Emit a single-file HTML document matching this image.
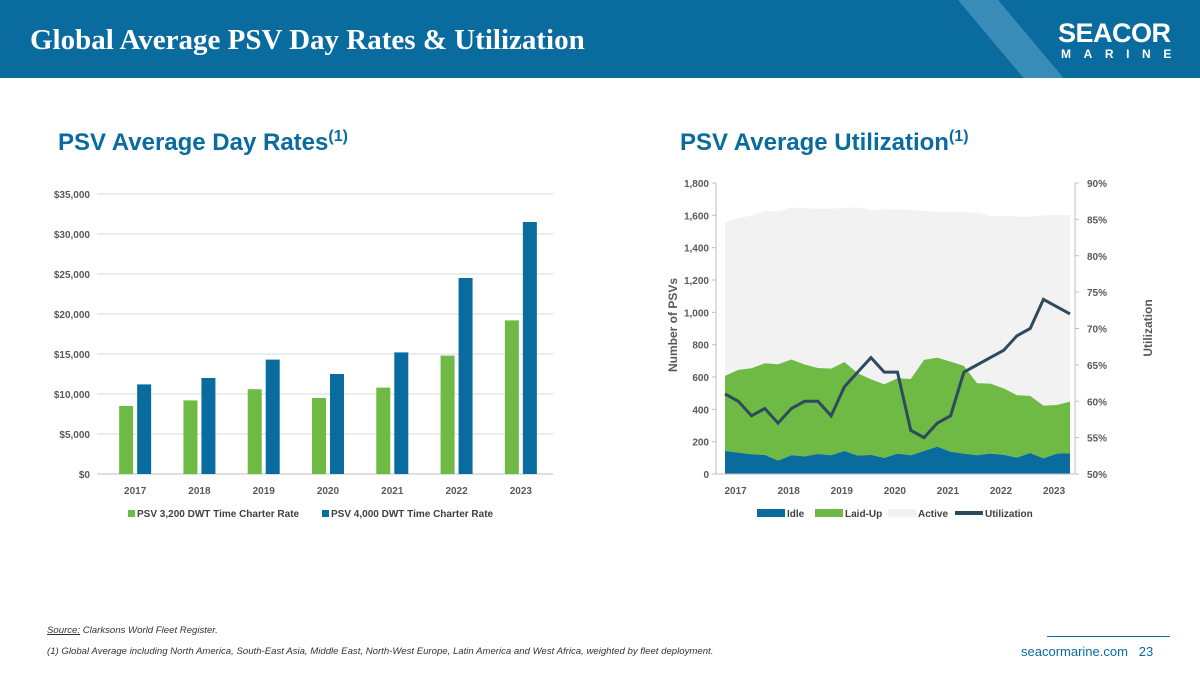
<!DOCTYPE html>
<html><head><meta charset="utf-8"><style>
body{margin:0;width:1200px;height:675px;overflow:hidden;background:#fff;font-family:"Liberation Sans",sans-serif;position:relative}
.hdr{position:absolute;left:0;top:0;width:1200px;height:78px;background:#0a6b9f;overflow:hidden}
.stripe{position:absolute;left:1000px;top:-20px;width:40px;height:140px;background:#3a8cb8;transform:skewX(40deg)}
.title{position:absolute;left:30px;top:24px;color:#fff;font:bold 29px "Liberation Serif",serif}
.logo1{position:absolute;left:1058px;top:18px;color:#fff;font:900 27px "Liberation Sans",sans-serif;letter-spacing:-0.5px}
.logo2{position:absolute;left:1061px;top:47px;color:#fff;font:bold 12px "Liberation Sans",sans-serif;letter-spacing:12.6px;white-space:nowrap}
.sub{position:absolute;color:#0a6b9f;font:bold 24px "Liberation Sans",sans-serif}
.sub sup{font-size:16px}
.foot{position:absolute;font:italic 9.6px "Liberation Sans",sans-serif;color:#333;white-space:nowrap}
</style></head><body>
<div class="hdr"><div class="stripe"></div>
<div class="title">Global Average PSV Day Rates &amp; Utilization</div>
<div class="logo1">SEACOR</div>
<div class="logo2">MARINE</div></div>
<div class="sub" style="left:58px;top:128px">PSV Average Day Rates<sup>(1)</sup></div>
<div class="sub" style="left:680px;top:128px">PSV Average Utilization<sup>(1)</sup></div>
<svg id="c1" width="1200" height="675" style="position:absolute;left:0;top:0" font-family="Liberation Sans, sans-serif"></svg>
<div class="foot" style="left:47px;top:625px"><u>Source:</u> Clarksons World Fleet Register.</div>
<div class="foot" style="left:47px;top:646px">(1) Global Average including North America, South-East Asia, Middle East, North-West Europe, Latin America and West Africa, weighted by fleet deployment.</div>
<div style="position:absolute;left:1047px;top:636px;width:123px;border-top:1px solid #0a6b9f"></div>
<div style="position:absolute;left:1021px;top:644px;font-size:13px;color:#0a6b9f">seacormarine.com &nbsp;&nbsp;23</div>
<script>
const years=["2017","2018","2019","2020","2021","2022","2023"];
const rate3200=[8500,9200,10600,9500,10800,14800,19200];
const rate4000=[11200,12000,14300,12500,15200,24500,31500];
const rateTicks=[0,5000,10000,15000,20000,25000,30000,35000];
const idle=[142,132,122,118,83,116,109,124,116,142,114,118,99,126,116,142,169,138,126,116,126,118,101,130,97,126,128];
const laidUp=[465,512,532,567,596,592,568,532,536,551,509,468,456,466,472,564,551,557,543,445,433,412,386,353,326,301,320];
const active=[949,939,944,944,944,941,966,985,989,952,1026,1045,1080,1045,1045,920,903,925,951,1055,1036,1068,1104,1108,1177,1175,1154];
const utilization=[61,60,58,59,57,59,60,60,58,62,64,66,64,64,56,55,57,58,64,65,66,67,69,70,74,73,72];
const countTicks=[0,200,400,600,800,1000,1200,1400,1600,1800];
const pctTicks=[50,55,60,65,70,75,80,85,90];
const svg=document.getElementById('c1');
const NS='http://www.w3.org/2000/svg';
function mk(t,a,p){const e=document.createElementNS(NS,t);for(const k in a)e.setAttribute(k,a[k]);(p||svg).appendChild(e);return e;}
function tx(x,y,s,anchor,size,extra){const e=mk('text',Object.assign({x:x,y:y,'text-anchor':anchor,'font-size':size||10,'font-weight':'bold',fill:'#595959'},extra||{}));e.textContent=s;return e;}
// Left chart
const L={x0:103,x1:553,y0:474,y1:194};
const yR=v=>L.y0-(v/35000)*(L.y0-L.y1);
const gw=(L.x1-L.x0)/years.length;
rateTicks.forEach(t=>{const g=mk('line',{x1:97,x2:L.x1,y1:yR(t),y2:yR(t),stroke:t?'#d9d9d9':'#bfbfbf'});

const l=tx(90,yR(t)+4,'$'+t.toLocaleString('en-US'),'end');
});
years.forEach((y,i)=>{const c=L.x0+gw*(i+0.5);
const b1=mk('rect',{x:c-16,y:yR(rate3200[i]),width:14,height:L.y0-yR(rate3200[i]),fill:'#6fba44'});

const b2=mk('rect',{x:c+2,y:yR(rate4000[i]),width:14,height:L.y0-yR(rate4000[i]),fill:'#0a6b9f'});

const l=tx(c,494,y,'middle');});
let e=mk('rect',{x:128,y:510,width:7,height:7,fill:'#6fba44'});
e=tx(137,517,'PSV 3,200 DWT Time Charter Rate','start',10,{fill:'#404040'});
e=mk('rect',{x:322,y:510,width:7,height:7,fill:'#0a6b9f'});
e=tx(331,517,'PSV 4,000 DWT Time Charter Rate','start',10,{fill:'#404040'});
// Right chart
const R={x0:725,x1:1070,y0:474,y1:183};
const n=idle.length;
const xU=i=>R.x0+i*(R.x1-R.x0)/(n-1);
const yC=v=>R.y0-(v/1800)*(R.y0-R.y1);
const yP=v=>R.y0-((v-50)/40)*(R.y0-R.y1);
function area(lo,hi,fill,name){let d='M'+xU(0)+','+yC(hi[0]);for(let i=1;i<n;i++)d+='L'+xU(i)+','+yC(hi[i]);for(let i=n-1;i>=0;i--)d+='L'+xU(i)+','+yC(lo[i]);
const p=mk('path',{d:d+'Z',fill:fill});}
const zero=idle.map(()=>0);
const s1=idle.slice();const s2=idle.map((v,i)=>v+laidUp[i]);const s3=s2.map((v,i)=>v+active[i]);
area(s2,s3,'#f2f2f2','active-area');area(s1,s2,'#6fba44','laid-up-area');area(zero,s1,'#0a6b9f','idle-area');
let d='';utilization.forEach((v,i)=>{d+=(i?'L':'M')+xU(i)+','+yP(v);});
e=mk('path',{d:d,fill:'none',stroke:'#2e4a5e','stroke-width':3,'stroke-linejoin':'miter'});
mk('line',{x1:716,x2:716,y1:R.y1,y2:R.y0,stroke:'#bfbfbf'});
mk('line',{x1:1075,x2:1075,y1:R.y1,y2:R.y0,stroke:'#bfbfbf'});
mk('line',{x1:716,x2:1075,y1:R.y0,y2:R.y0,stroke:'#bfbfbf'});
countTicks.forEach(t=>{mk('line',{x1:712,x2:716,y1:yC(t),y2:yC(t),stroke:'#bfbfbf'});
const l=tx(709,yC(t)+4,t.toLocaleString('en-US'),'end');});
pctTicks.forEach(t=>{mk('line',{x1:1075,x2:1079,y1:yP(t),y2:yP(t),stroke:'#bfbfbf'});
const l=tx(1087,yP(t)+4,t+'%','start');});
years.forEach((y,i)=>{const l=tx(xU(i*4+0.8),494,y,'middle');});
e=tx(677,325,'Number of PSVs','middle',12,{transform:'rotate(-90 677 325)'});
e=tx(1152,328,'Utilization','middle',12,{transform:'rotate(-90 1152 328)'});
const leg=[['Idle','#0a6b9f',757],['Laid-Up','#6fba44',815],['Active','#f2f2f2',888],['Utilization','#2e4a5e',955]];
leg.forEach(([t,c,x])=>{const s=mk('rect',{x:x,y:t==='Utilization'?511:509,width:28,height:t==='Utilization'?4:8,fill:c});

const l=tx(x+30,517,t,'start',10,{fill:'#404040'});});
</script>
</body></html>
